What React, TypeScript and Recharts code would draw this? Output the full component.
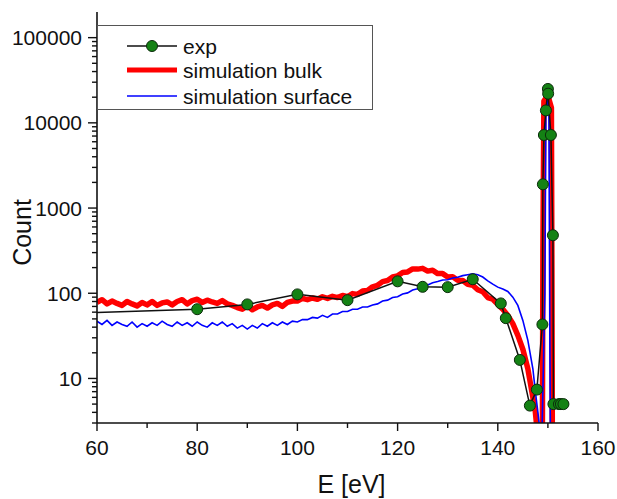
import React from 'react';
import { LineChart, Line, XAxis, YAxis, Legend } from 'recharts';

const seriesNames = ['exp', 'simulation bulk', 'simulation surface'];

const xMajor = [60, 80, 100, 120, 140, 160];
const xTicks = [60, 70, 80, 90, 100, 110, 120, 130, 140, 150, 160];
const yMajor = [10, 100, 1000, 10000, 100000];
const yTicks = [
    3, 4, 5, 6, 7, 8, 9, 10, 20, 30, 40, 50, 60, 70, 80, 90, 100,
    200, 300, 400, 500, 600, 700, 800, 900, 1000,
    2000, 3000, 4000, 5000, 6000, 7000, 8000, 9000, 10000,
    20000, 30000, 40000, 50000, 60000, 70000, 80000, 90000, 100000,
];

// experiment
const expE = [50, 80, 90, 100, 110, 120, 125, 130, 135, 140.6, 141.6, 144.4, 146.4, 147.8, 148.9, 149.0, 149.2, 149.6, 150.0, 150.05, 150.6, 151.0, 151.1, 152.2, 152.6, 153.1];
const expCount = [57, 65, 74, 97, 83, 138, 119, 118, 146, 76, 51, 16.5, 4.8, 7.4, 43, 1900, 7200, 14000, 25000, 22000, 7200, 480, 5, 5, 5, 5];

// simulation bulk
const bulkE = [
    60, 61, 62, 63, 64, 65, 66, 67, 68, 69,
    70, 71, 72, 73, 74, 75, 76, 77, 78, 79,
    80, 81, 82, 83, 84, 85, 86, 87, 88, 89,
    90, 91, 92, 93, 94, 95, 96, 97, 98, 99,
    100, 101, 102, 103, 104, 105, 106, 107, 108, 109,
    110, 111, 112, 113, 114, 115, 116, 117, 118, 119,
    120, 121, 122, 123, 124, 125, 126, 127, 128, 129,
    130, 131, 132, 133, 134, 135, 136, 137, 138, 139,
    140, 141, 142, 143, 144, 145, 146, 147,
    147.5, 148, 148.5, 148.9, 149.0, 149.2, 150.0, 150.7, 150.8, 150.9,
];
const bulkCount = [
    78, 84, 75, 81, 76, 72, 80, 75, 71, 78,
    73, 80, 72, 77, 79, 73, 80, 84, 75, 82,
    85, 78, 83, 79, 76, 82, 75, 72, 68, 65,
    71, 64, 69, 72, 67, 73, 76, 70, 78, 81,
    81, 87, 84, 88, 85, 91, 87, 92, 89, 94,
    91, 99, 97, 106, 108, 119, 124, 137, 141, 155,
    160, 175, 178, 193, 192, 196, 182, 186, 170, 170,
    155, 156, 142, 141, 127, 124, 110, 104, 89, 85,
    74, 65, 55, 44, 32, 22, 13, 6,
    4, 2, 1.5, 2, 300, 18000, 21000, 15000, 200, 1,
];

// simulation surface
const surfE = [
    60, 61, 62, 63, 64, 65, 66, 67, 68, 69,
    70, 71, 72, 73, 74, 75, 76, 77, 78, 79,
    80, 81, 82, 83, 84, 85, 86, 87, 88, 89,
    90, 91, 92, 93, 94, 95, 96, 97, 98, 99,
    100, 101, 102, 103, 104, 105, 106, 107, 108, 109,
    110, 111, 112, 113, 114, 115, 116, 117, 118, 119,
    120, 121, 122, 123, 124, 125, 126, 127, 128, 129,
    130, 131, 132, 133, 134, 135, 136, 137, 138, 139,
    140, 141, 142, 143, 144, 145, 146, 147,
    147.5, 148, 148.4, 148.8, 149.4, 149.6, 149.9, 150.2, 150.4, 150.5,
];
const surfCount = [
    47, 43, 48, 42, 46, 43, 41, 46, 40, 44,
    41, 45, 42, 47, 43, 41, 46, 42, 45, 41,
    46, 42, 40, 45, 42, 46, 41, 44, 39, 42,
    38, 42, 39, 44, 41, 45, 42, 46, 43, 47,
    46, 49, 49, 52, 51, 55, 52, 57, 57, 61,
    61, 65, 65, 69, 69, 73, 75, 81, 83, 89,
    91, 98, 101, 109, 113, 121, 125, 133, 137, 143,
    144, 151, 154, 161, 165, 169, 165, 155, 140, 128,
    118, 112, 105, 90, 72, 48, 28, 13,
    7, 4, 2.5, 2, 100, 15000, 17500, 15000, 20, 2,
];

const toRows = (e: number[], c: number[]) => e.map((v, i) => ({ e: v, count: c[i] }));
const expData = toRows(expE, expCount);
const bulkData = toRows(bulkE, bulkCount);
const surfData = toRows(surfE, surfCount);

const font = '"Liberation Sans", Arial, sans-serif';
const ink = '#111';

const yTick = (side: 'left' | 'right') => (p: any) => {
    const v = p.payload.value;
    const major = yMajor.includes(v);
    const len = major ? 9 : 5;
    return (
        <g>
            <line x1={p.x} x2={p.x - len} y1={p.y} y2={p.y} stroke={ink} strokeWidth={1.4} />
            {side === 'left' && major && (
                <text x={p.x - 15} y={p.y + 7.5} textAnchor="end" fontSize={21} fontFamily={font} fill={ink}>
                    {v}
                </text>
            )}
        </g>
    );
};

const xTick = (side: 'bottom' | 'top') => (p: any) => {
    const v = p.payload.value;
    const major = xMajor.includes(v);
    const len = major ? 8 : 5;
    return (
        <g>
            <line x1={p.x} x2={p.x} y1={p.y} y2={p.y + len} stroke={ink} strokeWidth={1.4} />
            {side === 'bottom' && major && (
                <text x={p.x} y={p.y + 32} textAnchor="middle" fontSize={21} fontFamily={font} fill={ink}>
                    {v}
                </text>
            )}
        </g>
    );
};

const LegendBox = () => (
    <div style={{ width: 276, height: 85, boxSizing: 'border-box', border: '1.5px solid #555', background: '#fff' }}>
        <svg width={273} height={82} style={{ display: 'block' }}>
            <line x1={29} x2={79} y1={20} y2={20} stroke={ink} strokeWidth={1.5} />
            <circle cx={54} cy={20} r={5.5} fill="#148214" stroke="#0b2b0b" strokeWidth={1} />
            <line x1={29} x2={79} y1={44} y2={44} stroke="#ff0000" strokeWidth={5} />
            <line x1={29} x2={79} y1={70} y2={70} stroke="#0000ff" strokeWidth={1.5} />
            {seriesNames.map((n, i) => (
                <text key={n} x={85} y={[20, 44, 70][i] + 7.5} fontSize={21} fontFamily={font} fill={ink}>
                    {n}
                </text>
            ))}
        </svg>
    </div>
);

export default function App() {
    return (
        <div style={{ position: 'absolute', left: 0, top: 0, background: '#fff' }}>
            <LineChart width={617} height={499} margin={{ top: 12, right: 19, left: 0, bottom: 0 }}>
                <XAxis
                    xAxisId="b"
                    type="number"
                    dataKey="e"
                    domain={[60, 160]}
                    allowDataOverflow
                    ticks={xTicks}
                    interval={0}
                    height={76}
                    tickSize={0}
                    tickMargin={0}
                    tick={xTick('bottom')}
                    axisLine={{ stroke: ink, strokeWidth: 1.6 }}
                    tickLine={false}
                    label={{
                        content: (p: any) => (
                            <text x={p.viewBox.x + p.viewBox.width / 2 + 4} y={493} textAnchor="middle" fontSize={25} fontFamily={font} fill={ink}>
                                E [eV]
                            </text>
                        ),
                    }}
                />
                <XAxis
                    xAxisId="t"
                    orientation="top"
                    type="number"
                    dataKey="e"
                    domain={[60, 160]}
                    allowDataOverflow
                    ticks={xTicks}
                    interval={0}
                    height={0}
                    tickSize={0}
                    tickMargin={0}
                    tick={xTick('top')}
                    axisLine={{ stroke: ink, strokeWidth: 1.6 }}
                    tickLine={false}
                />
                <YAxis
                    yAxisId="l"
                    scale="log"
                    domain={[3, 200000]}
                    allowDataOverflow
                    ticks={yTicks}
                    interval={0}
                    width={97}
                    tickSize={0}
                    tickMargin={0}
                    tick={yTick('left')}
                    axisLine={{ stroke: ink, strokeWidth: 1.6 }}
                    tickLine={false}
                    label={{
                        content: (p: any) => {
                            const cx = 22;
                            const cy = p.viewBox.y + p.viewBox.height / 2 + 15;
                            return (
                                <text x={cx} y={cy} transform={`rotate(-90 ${cx} ${cy})`} textAnchor="middle" dominantBaseline="central" fontSize={25} fontFamily={font} fill={ink}>
                                    Count
                                </text>
                            );
                        },
                    }}
                />
                <YAxis
                    yAxisId="r"
                    orientation="right"
                    scale="log"
                    domain={[3, 200000]}
                    allowDataOverflow
                    ticks={yTicks}
                    interval={0}
                    width={0}
                    tickSize={0}
                    tickMargin={0}
                    tick={yTick('right')}
                    axisLine={{ stroke: ink, strokeWidth: 1.6 }}
                    tickLine={false}
                />
                <Legend
                    layout="vertical"
                    align="center"
                    verticalAlign="middle"
                    wrapperStyle={{ left: 97, top: 25, width: 276, height: 85 }}
                    content={() => <LegendBox />}
                />
                <Line
                    xAxisId="b"
                    yAxisId="l"
                    data={bulkData}
                    dataKey="count"
                    name={seriesNames[1]}
                    type="linear"
                    stroke="#ff0000"
                    strokeWidth={5.5}
                    strokeLinejoin="round"
                    dot={false}
                    activeDot={false}
                    isAnimationActive={false}
                />
                <Line
                    xAxisId="b"
                    yAxisId="l"
                    data={surfData}
                    dataKey="count"
                    name={seriesNames[2]}
                    type="linear"
                    stroke="#0000ff"
                    strokeWidth={1.6}
                    dot={false}
                    activeDot={false}
                    isAnimationActive={false}
                />
                <Line
                    xAxisId="b"
                    yAxisId="l"
                    data={expData}
                    dataKey="count"
                    name={seriesNames[0]}
                    type="linear"
                    stroke={ink}
                    strokeWidth={1.5}
                    dot={{ r: 5.5, fill: '#148214', stroke: '#0b2b0b', strokeWidth: 1 }}
                    activeDot={false}
                    isAnimationActive={false}
                />
            </LineChart>
        </div>
    );
}
